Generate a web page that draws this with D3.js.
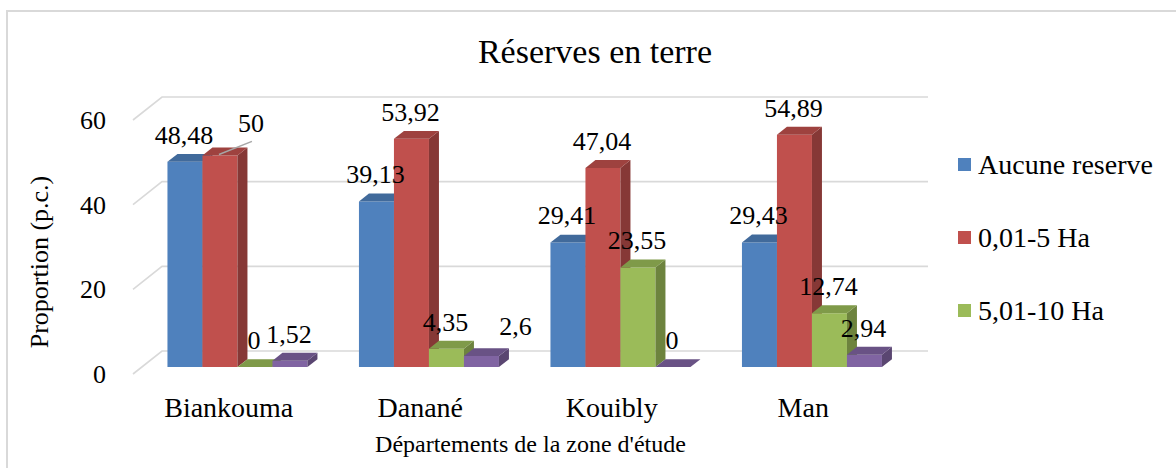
<!DOCTYPE html>
<html>
<head>
<meta charset="utf-8">
<script src="https://cdn.jsdelivr.net/npm/d3@7"></script>
<style>
  body { margin: 0; background: #fff; }
  svg { display: block; }
  svg text { font-family: "Liberation Serif", "Times New Roman", serif; }
</style>
</head>
<body>
<script>
// data
const categories = ['Biankouma', 'Danané', 'Kouibly', 'Man'];
const seriesNames = ['Aucune reserve', '0,01-5 Ha', '5,01-10 Ha', 'Plus de 10 Ha'];
const aucuneReserve = [48.48, 39.13, 29.41, 29.43];
const ha0to5 = [50, 53.92, 47.04, 54.89];
const ha5to10 = [0, 4.35, 23.55, 12.74];
const ha10plus = [1.52, 2.6, 0, 2.94];
const yTicks = [0, 20, 40, 60];
const colors = ['#4F81BD', '#C0504D', '#9BBB59', '#8064A2'];

const seriesValues = [aucuneReserve, ha0to5, ha5to10, ha10plus];

// layout of the pseudo 3D box
const W = 1176, H = 468;
const floorLeft = 133, floorRight = 899;
const depth = {x: 29, y: -23};   // full depth offset of the box
const z0 = 0.3, z1 = 0.645;       // bar front / back, as fraction of depth

// labels excel moved by hand
const labelNudge = {'0-1': {dx: 32, dy: -5, leader: true}, '1-3': {dx: 35, dy: -3}};

const svg = d3.select('body').append('svg')
  .attr('width', W)
  .attr('height', H);

// chart frame
svg.append('rect')
  .attr('x', 7).attr('y', 11)
  .attr('width', W + 10).attr('height', H + 10)
  .attr('fill', '#fff')
  .attr('stroke', '#d9d9d9')
  .attr('stroke-width', 2);

const x = d3.scaleBand()
  .domain(categories)
  .range([floorLeft, floorRight])
  .paddingInner(0.269)
  .paddingOuter(0.1345);

const xs = d3.scaleBand()
  .domain(d3.range(seriesNames.length))
  .range([0, x.bandwidth()]);

const y = d3.scaleLinear().domain([0, 60]).range([374, 120]);

// project (px, value, z) onto screen
const P = (px, v, z) => [px + z * depth.x, y(v) + z * depth.y];

// gridlines: side wall diagonal + back wall
svg.append('g').selectAll('path')
  .data(yTicks)
  .enter().append('path')
  .attr('fill', 'none')
  .attr('stroke', '#d9d9d9')
  .attr('stroke-width', 1.6)
  .attr('d', (t) => d3.line()([P(floorLeft, t, 0), P(floorLeft, t, 1), P(floorRight, t, 1)]));

// y tick labels
svg.append('g').selectAll('text')
  .data(yTicks)
  .enter().append('text')
  .attr('x', 106)
  .attr('y', (t) => y(t) + 9)
  .attr('text-anchor', 'end')
  .attr('font-size', 26)
  .attr('fill', '#000')
  .text((t) => t);

// bars, left to right so each one hides the right face of its neighbour
const bars = [];
categories.forEach((c, ci) => {
  seriesValues.forEach((vals, si) => {
    bars.push({c, ci, si, v: vals[ci], left: x(c) + xs(si), w: xs.bandwidth()});
  });
});

const poly = (pts) => d3.line()(pts) + 'Z';
const barG = svg.append('g');
bars.forEach((b) => {
  const base = d3.color(colors[b.si]);
  const l = b.left, r = b.left + b.w;
  const g = barG.append('g');
  // front face
  g.append('path')
    .attr('fill', base)
    .attr('d', poly([P(l, 0, z0), P(r, 0, z0), P(r, b.v, z0), P(l, b.v, z0)]));
  // right face
  g.append('path')
    .attr('fill', base.darker(1.0))
    .attr('d', poly([P(r, 0, z0), P(r, 0, z1), P(r, b.v, z1), P(r, b.v, z0)]));
  // top face
  g.append('path')
    .attr('fill', base.darker(0.55))
    .attr('d', poly([P(l, b.v, z0), P(r, b.v, z0), P(r, b.v, z1), P(l, b.v, z1)]));
});

// data labels
const fmt = (v) => String(v).replace('.', ',');
const labelG = svg.append('g');
bars.forEach((b) => {
  const n = labelNudge[`${b.ci}-${b.si}`] || {dx: 0, dy: 0};
  const cx = P(b.left + b.w / 2, b.v, z0)[0] - 1;
  const by = y(b.v) - 25;
  if (n.leader) {
    labelG.append('line')
      .attr('x1', cx).attr('y1', y(b.v) + z0 * depth.y - 1)
      .attr('x2', cx + n.dx + 1).attr('y2', by + n.dy + 9)
      .attr('stroke', '#a6a6a6')
      .attr('stroke-width', 1.5);
  }
  labelG.append('text')
    .attr('x', cx + n.dx)
    .attr('y', by + n.dy)
    .attr('text-anchor', 'middle')
    .attr('font-size', 26)
    .attr('fill', '#000')
    .text(fmt(b.v));
});

// category labels
svg.append('g').selectAll('text')
  .data(categories)
  .enter().append('text')
  .attr('x', (c) => x(c) + x.bandwidth() / 2)
  .attr('y', 417)
  .attr('text-anchor', 'middle')
  .attr('font-size', 28)
  .attr('fill', '#000')
  .text((c) => c);

// axis titles
svg.append('text')
  .attr('x', (floorLeft + floorRight) / 2 + depth.x / 2)
  .attr('y', 452)
  .attr('text-anchor', 'middle')
  .attr('font-size', 24)
  .text("Départements de la zone d'étude");

svg.append('text')
  .attr('transform', 'translate(48,262) rotate(-90)')
  .attr('text-anchor', 'middle')
  .attr('font-size', 26)
  .text('Proportion (p.c.)');

// title
svg.append('text')
  .attr('x', 595)
  .attr('y', 63)
  .attr('text-anchor', 'middle')
  .attr('font-size', 34)
  .text('Réserves en terre');

// legend (the fourth entry falls outside the visible frame)
const legend = svg.append('g').selectAll('g')
  .data(seriesNames.slice(0, 3))
  .enter().append('g')
  .attr('transform', (d, i) => `translate(958,${158 + i * 73})`);

legend.append('rect')
  .attr('width', 13).attr('height', 13)
  .attr('fill', (d, i) => colors[i]);

legend.append('text')
  .attr('x', 20)
  .attr('y', 16)
  .attr('font-size', 28)
  .text((d) => d);
</script>
</body>
</html>
